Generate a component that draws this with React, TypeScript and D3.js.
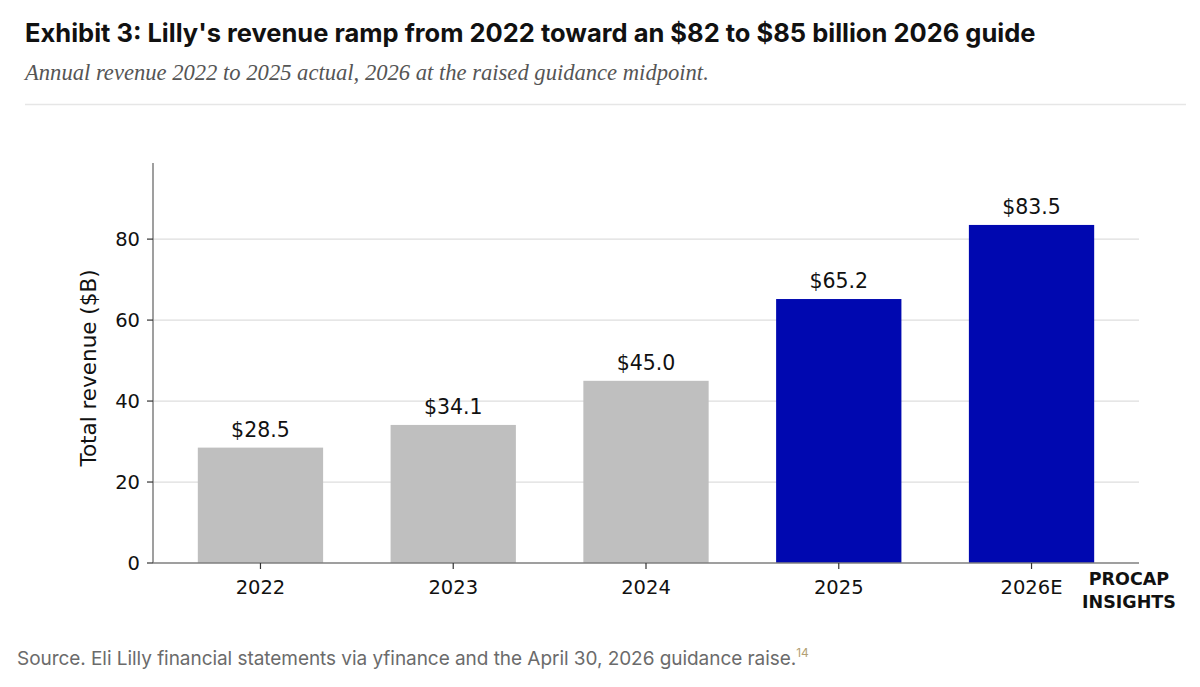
import React from 'react';
import * as d3 from 'd3';

const years = ['2022', '2023', '2024', '2025', '2026E'];
const revenue = [28.5, 34.1, 45.0, 65.2, 83.5];
const highlighted = [false, false, false, true, true];
const yTicks = [0, 20, 40, 60, 80];

const W = 1200;
const H = 687;
const plot = { left: 153, right: 1139, top: 163, bottom: 563 };

const App = () => {
  const x = d3
    .scaleLinear()
    .domain([-0.5575, years.length - 1 + 0.5575])
    .range([plot.left, plot.right]);
  const y = d3.scaleLinear().domain([0, 98.8]).range([plot.bottom, plot.top]);
  const barW = x(0.65) - x(0);
  const dejavu = 'DejaVu Sans, sans-serif';

  return (
    <div style={{ position: 'absolute', left: 0, top: 0, width: W, height: H, background: '#fff' }}>
      <svg width={W} height={H} style={{ display: 'block' }}>
        <text x={25} y={42} fontFamily="Inter, sans-serif" fontWeight={700} fontSize={25.5} fill="#111" letterSpacing={0}>
          Exhibit 3: Lilly's revenue ramp from 2022 toward an $82 to $85 billion 2026 guide
        </text>
        <text x={25} y={80} fontFamily="Liberation Serif, serif" fontStyle="italic" fontSize={22.6} fill="#555">
          Annual revenue 2022 to 2025 actual, 2026 at the raised guidance midpoint.
        </text>
        <line x1={25} x2={1186} y1={104.5} y2={104.5} stroke="#e6e6e6" strokeWidth={1.5} />

        {/* grid */}
        {yTicks.filter(t => t > 0).map(t => (
          <line key={`g${t}`} x1={plot.left} x2={plot.right} y1={y(t)} y2={y(t)} stroke="#dedede" strokeWidth={1.3} />
        ))}

        {/* bars */}
        {revenue.map((v, i) => (
          <g key={years[i]}>
            <rect
              x={x(i) - barW / 2}
              y={y(v)}
              width={barW}
              height={y(0) - y(v)}
              fill={highlighted[i] ? '#0008b0' : '#bfbfbf'}
            />
            <text x={x(i)} y={y(v) - 11} textAnchor="middle" fontFamily={dejavu} fontSize={20.5} fill="#111">
              {`$${v.toFixed(1)}`}
            </text>
          </g>
        ))}

        {/* axes */}
        <line x1={plot.left} x2={plot.left} y1={plot.top} y2={plot.bottom} stroke="#7f7f7f" strokeWidth={1.5} />
        <line x1={plot.left} x2={plot.right} y1={plot.bottom} y2={plot.bottom} stroke="#7f7f7f" strokeWidth={1.5} />

        {yTicks.map(t => (
          <g key={`y${t}`}>
            <line x1={plot.left - 6} x2={plot.left} y1={y(t)} y2={y(t)} stroke="#333" strokeWidth={1.2} />
            <text x={plot.left - 13} y={y(t)} dy="0.36em" textAnchor="end" fontFamily={dejavu} fontSize={19.5} fill="#111">
              {t}
            </text>
          </g>
        ))}

        {years.map((yr, i) => (
          <g key={`x${yr}`}>
            <line x1={x(i)} x2={x(i)} y1={plot.bottom} y2={plot.bottom + 6} stroke="#333" strokeWidth={1.2} />
            <text x={x(i)} y={594} textAnchor="middle" fontFamily={dejavu} fontSize={19.5} fill="#111">
              {yr}
            </text>
          </g>
        ))}

        <text
          transform={`translate(96, 368) rotate(-90)`}
          textAnchor="middle"
          fontFamily={dejavu}
          fontSize={21.5}
          fill="#111"
        >
          Total revenue ($B)
        </text>

        <text x={1129} y={585} textAnchor="middle" fontFamily={dejavu} fontWeight={700} fontSize={17.5} fill="#111">
          PROCAP
        </text>
        <text x={1129} y={608} textAnchor="middle" fontFamily={dejavu} fontWeight={700} fontSize={17.5} fill="#111">
          INSIGHTS
        </text>

        <text x={17} y={665} fontFamily="Inter, sans-serif" fontSize={19} fill="#6b6b6b" letterSpacing={-0.05}>
          Source. Eli Lilly financial statements via yfinance and the April 30, 2026 guidance raise.
          <tspan dy={-8} fontSize={12} fill="#b39f74">14</tspan>
        </text>
      </svg>
    </div>
  );
};

export default App;
